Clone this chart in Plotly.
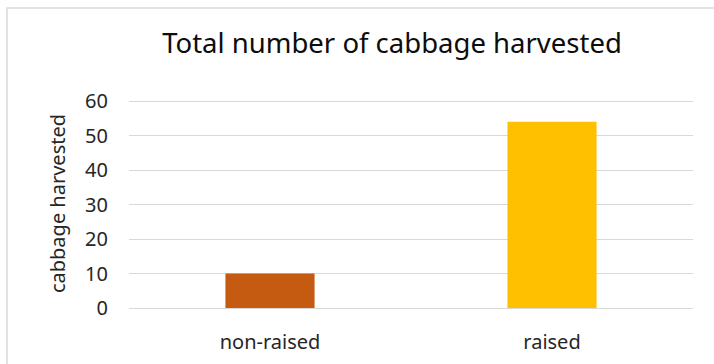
import plotly.graph_objects as go

categories = ["non-raised", "raised"]
values = [10, 54]
bar_colors = ["#C55A11", "#FFC000"]
y_ticks = [0, 10, 20, 30, 40, 50, 60]
y_top = 60.6

W, H = 714, 364
L, R, B = 129, 21, 56
ph = 207 * y_top / 60
T = H - B - ph
pw = W - L - R

def px_x(px):
    return (px - L) / pw

def px_y(py):
    return (H - B - py) / ph

FONT = "Noto Sans"

fig = go.Figure(go.Bar(
    x=categories, y=values, marker=dict(color=bar_colors, line=dict(width=0)),
    width=0.316, hoverinfo="skip"))

fig.update_layout(
    width=W, height=H,
    margin=dict(l=L, r=R, t=T, b=B, autoexpand=False),
    paper_bgcolor="white", plot_bgcolor="white",
    showlegend=False,
    font=dict(family=FONT, color="#262626"),
    title=dict(text="Total number of cabbage harvested", x=px_x(392), xref="paper",
               y=1 - 43 / H, yref="container", xanchor="center", yanchor="middle",
               font=dict(family=FONT, size=27.5, color="#0d0d0d")),
    xaxis=dict(showgrid=False, showline=False, zeroline=False, ticks="",
               ticklabelstandoff=20, automargin=False,
               tickfont=dict(family=FONT, size=20, color="#262626")),
    yaxis=dict(range=[0, y_top], tickvals=y_ticks, showgrid=True, gridcolor="#d9d9d9",
               gridwidth=1, zeroline=True, zerolinecolor="#d9d9d9", zerolinewidth=1,
               showline=False, ticks="", ticklen=0, ticklabelstandoff=20,
               automargin=False,
               tickfont=dict(family=FONT, size=20, color="#262626"),
               title=dict(text="cabbage harvested", standoff=14,
                          font=dict(family=FONT, size=20, color="#262626"))),
    shapes=[dict(type="rect", xref="paper", yref="paper",
                 x0=px_x(7), x1=px_x(730), y0=px_y(380), y1=px_y(8),
                 line=dict(color="#d9d9d9", width=1.5), fillcolor="rgba(0,0,0,0)",
                 layer="below")],
)

fig.write_html("out.html")
